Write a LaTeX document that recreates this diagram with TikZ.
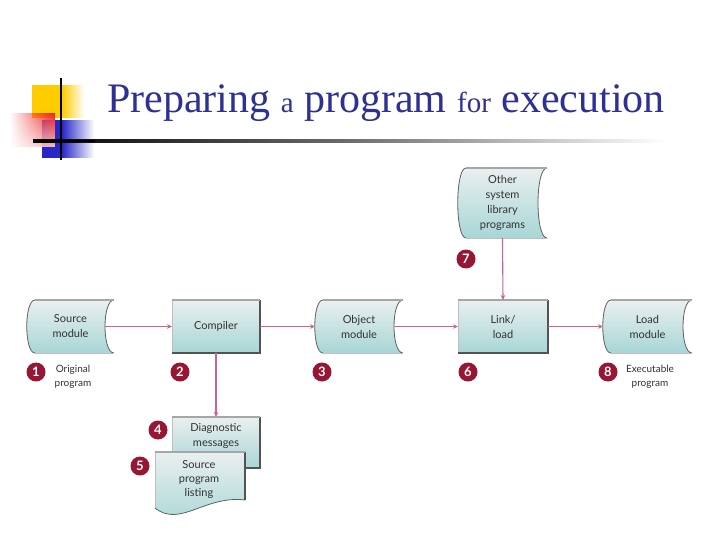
\documentclass[tikz,border=0pt]{standalone}
\usepackage{fontspec}
\setmainfont{Lato}
\newfontfamily\titlefont{Liberation Serif}
\usetikzlibrary{arrows.meta,calc,fadings}
\pgfdeclarelayer{background}
\pgfsetlayers{background,main}
\definecolor{titleblue}{RGB}{46,49,146}
\definecolor{conncol}{RGB}{200,100,150}
\definecolor{numred}{RGB}{150,22,52}
\definecolor{boxtop}{RGB}{234,239,239}
\definecolor{boxbot}{RGB}{168,214,214}
\definecolor{txtgray}{RGB}{50,50,50}
\definecolor{gold}{RGB}{255,204,0}
\definecolor{decored}{RGB}{238,30,36}
\definecolor{decoblue}{RGB}{40,40,200}
\tikzfading[name=fadeinright, left color=transparent!100, right color=transparent!0]
\tikzfading[name=fadeoutright, left color=transparent!0, right color=transparent!100]
\tikzfading[name=fadeindown, top color=transparent!100, bottom color=transparent!30]
\tikzset{
  boxnode/.style={inner sep=0pt, outer sep=0pt, align=center, text=txtgray,
    font=\fontsize{11}{15}\selectfont},
  txtnode/.style={inner sep=0pt, align=center, text=txtgray, font=\fontsize{11}{15}\selectfont},
  lblnode/.style={inner sep=0pt, align=center, text=txtgray, font=\fontsize{10}{14}\selectfont},
  numnode/.style={circle, fill=numred, minimum size=19pt, inner sep=0pt, text=white,
    font=\fontsize{13}{13}\selectfont\bfseries},
  conn/.style={draw=conncol, line width=1.1pt, -{Stealth[length=5pt,width=4.5pt]}},
  boxshade/.style={top color=boxtop, bottom color=boxbot},
  edgegray/.style={draw=gray!75!black, line width=0.8pt},
  topedge/.style={draw=gray!70, line width=2.2pt},
  shadowedge/.style={draw=gray!65!black, line width=1.6pt},
}
\newcommand\storageshape[1]{%
  \shade[boxshade] ([xshift=8pt]#1.north west) .. controls ([xshift=-3pt]#1.north west) and ([xshift=-3pt]#1.south west) .. ([xshift=8pt]#1.south west) -- (#1.south east) .. controls ([xshift=-12pt]#1.south east) and ([xshift=-12pt]#1.north east) .. (#1.north east) -- cycle;
  \draw[edgegray] ([xshift=8pt]#1.north west) .. controls ([xshift=-3pt]#1.north west) and ([xshift=-3pt]#1.south west) .. ([xshift=8pt]#1.south west);
  \draw[edgegray] (#1.south east) .. controls ([xshift=-12pt]#1.south east) and ([xshift=-12pt]#1.north east) .. (#1.north east);
  \draw[draw=gray!50, line width=0.6pt] ([xshift=8pt]#1.south west) -- (#1.south east);
  \draw[topedge] ([xshift=8pt]#1.north west) -- (#1.north east);
}
\newcommand\rectshape[1]{%
  \shade[boxshade] (#1.north west) rectangle (#1.south east);
  \draw[draw=gray!50, line width=0.6pt] (#1.north west) -- (#1.south west);
  \draw[shadowedge] (#1.south west) -- (#1.south east) -- (#1.north east);
  \draw[topedge] (#1.north west) -- (#1.north east);
}
\begin{document}
\begin{tikzpicture}[x=1pt,y=1pt]
  \useasboundingbox (0,0) rectangle (720,-540);

  % title
  \node[anchor=base west, inner sep=0pt, text=titleblue] (title) at (107,-113)
    {\titlefont\fontsize{42}{42}\selectfont Preparing {\fontsize{29}{29}\selectfont a} program {\fontsize{29}{29}\selectfont for} execution};

  % main row
  \node[boxnode, minimum width=87pt, minimum height=53pt] (src) at (70.5,-326.5) {Source\\module};
  \node[boxnode, minimum width=88pt, minimum height=53pt] (comp) at (216,-326.5) {Compiler};
  \node[boxnode, minimum width=88pt, minimum height=53pt] (obj) at (359,-326.5) {Object\\module};
  \node[boxnode, minimum width=90pt, minimum height=53pt] (link) at (503,-326.5) {Link/\\load};
  \node[boxnode, minimum width=89pt, minimum height=53pt] (load) at (647.5,-326.5) {Load\\module};
  \node[boxnode, minimum width=89pt, minimum height=70pt] (lib) at (502.5,-203) {Other\\system\\library\\programs};

  % diagnostic and listing
  \node[inner sep=0pt, outer sep=0pt, minimum width=88pt, minimum height=51pt] (diag) at (216,-442.5) {};
  \node[txtnode] (diagtext) at (216,-436) {Diagnostic\\messages};
  \node[inner sep=0pt, outer sep=0pt, minimum width=90pt, minimum height=48pt] (list) at (200,-476) {};
  \node[txtnode, font=\fontsize{11}{14}\selectfont] (listtext) at (199,-479.5) {Source\\program\\listing};

  \begin{pgfonlayer}{background}
    \fill[white] (0,0) rectangle (720,-540);
    % decoration
    \fill[gold] (32,-85) rectangle (62,-118);
    \fill[gold, path fading=fadeoutright] (62,-85) rectangle (84,-118);
    \fill[decoblue] (42,-120) rectangle (62,-158);
    \fill[decoblue, path fading=fadeoutright] (62,-120) rectangle (94,-158);
    \fill[decored, path fading=fadeinright] (10,-113) rectangle (55,-147);
    \fill[white, path fading=fadeindown] (10,-113) rectangle (55,-147);
    \shade[left color=black, right color=white, middle color=gray!85!black] (33,-139.8) rectangle (665,-142.4);
    \fill[black] (33,-139.8) rectangle (95,-142.4);
    \fill[black] (59.8,-78) rectangle (62.4,-160);

    \storageshape{src}
    \storageshape{obj}
    \storageshape{load}
    \storageshape{lib}
    \rectshape{comp}
    \rectshape{link}
    \rectshape{diag}
    \shade[boxshade] (list.north west) -- (list.north east) -- (list.south east)
      .. controls ([xshift=-40pt,yshift=5pt]list.south east) and ([xshift=25pt,yshift=-28pt]list.south west) .. ([yshift=-8pt]list.south west) -- cycle;
    \draw[draw=gray!50, line width=0.6pt] (list.north west) -- ([yshift=-8pt]list.south west);
    \draw[edgegray] (list.south east)
      .. controls ([xshift=-40pt,yshift=5pt]list.south east) and ([xshift=25pt,yshift=-28pt]list.south west) .. ([yshift=-8pt]list.south west);
    \draw[shadowedge] (list.north east) -- (list.south east);
    \draw[topedge] (list.north west) -- (list.north east);
  \end{pgfonlayer}

  % connectors
  \draw[conn] ([xshift=-9pt]src.east) -- (comp.west);
  \draw[conn] (comp.east) -- (obj.west);
  \draw[conn] ([xshift=-9pt]obj.east) -- (link.west);
  \draw[conn] (link.east) -- (load.west);
  \draw[conn] (lib.south) -- (link.north);
  \draw[conn] (comp.south) -- (diag.north);

  % numbers
  \node[numnode] (n1) at (36,-372) {1};
  \node[numnode] (n2) at (180,-372) {2};
  \node[numnode] (n3) at (322,-372) {3};
  \node[numnode] (n4) at (158,-430) {4};
  \node[numnode] (n5) at (140,-466) {5};
  \node[numnode] (n6) at (468,-372) {6};
  \node[numnode] (n7) at (466,-259) {7};
  \node[numnode] (n8) at (608,-372) {8};

  % labels
  \node[lblnode] (orig) at (73,-377) {Original\\program};
  \node[lblnode] (exec) at (650,-377) {Executable\\program};
\end{tikzpicture}
\end{document}
